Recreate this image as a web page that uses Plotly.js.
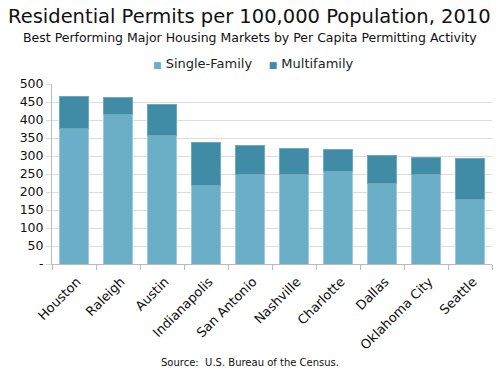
<!DOCTYPE html>
<html>
<head>
<meta charset="utf-8">
<script src="https://cdn.plot.ly/plotly-3.0.1.min.js"></script>
<style>html,body{margin:0;padding:0;background:#fff;}#chart{width:500px;height:375px;}</style>
</head>
<body>
<div id="chart"></div>
<script>
var cities = ["Houston","Raleigh","Austin","Indianapolis","San Antonio","Nashville","Charlotte","Dallas","Oklahoma City","Seattle"];
var singleFamily = [377, 414, 356, 217, 249, 250, 258, 224, 249, 180];
var multifamily = [87, 49, 86, 121, 81, 71, 61, 78, 46, 113];
var yTickVals = [0, 50, 100, 150, 200, 250, 300, 350, 400, 450, 500];
var yTickText = ["-", "50", "100", "150", "200", "250", "300", "350", "400", "450", "500"];
var seriesNames = ["Single-Family", "Multifamily"];
var seriesColors = ["#6aaec8", "#408ba6"];

var font = "DejaVu Sans, Verdana, sans-serif";
var data = [
  {type: "bar", name: seriesNames[0], x: cities, y: singleFamily,
   marker: {color: seriesColors[0], line: {color: "#9dcbdc", width: 1}}},
  {type: "bar", name: seriesNames[1], x: cities, y: multifamily,
   marker: {color: seriesColors[1], line: {color: "#6ea9be", width: 1}}}
];
var plotH = 375 - 84 - 111;
var plotW = 500 - 52 - 8;
function py(pix) { return (375 - 111 - pix) / plotH; }
function px(pix) { return (pix - 52) / plotW; }
var legendText = seriesNames.map(function(n, i) {
  return "<span style='color:" + seriesColors[i] + ";font-size:9px'>■</span> " + n;
}).join("    ");
var layout = {
  width: 500, height: 375,
  margin: {l: 52, r: 8, t: 84, b: 111},
  barmode: "stack", bargap: 0.36,
  paper_bgcolor: "#fff", plot_bgcolor: "#fff",
  font: {family: font, color: "#111", size: 11},
  showlegend: false,
  xaxis: {type: "category", tickangle: -45, tickson: "boundaries", ticks: "outside",
          ticklen: 5, tickcolor: "#bbb", showline: true, linecolor: "#bbb",
          ticklabelstandoff: 4, ticklabelshift: 3,
          tickfont: {size: 13, color: "#111"}, showgrid: false},
  yaxis: {range: [0, 500], tickvals: yTickVals, ticktext: yTickText,
          showgrid: true, gridcolor: "#dcdcdc", showline: true, linecolor: "#bbb",
          ticks: "outside", ticklen: 5, tickcolor: "#dcdcdc",
          tickfont: {size: 12.5, color: "#111"}, zeroline: false, fixedrange: true},
  annotations: [
    {text: "Residential Permits per 100,000 Population, 2010", xref: "paper", yref: "paper",
     x: px(249), y: py(16), xanchor: "center", yanchor: "middle", showarrow: false,
     font: {size: 19.5, color: "#111"}},
    {text: "Best Performing Major Housing Markets by Per Capita Permitting Activity", xref: "paper", yref: "paper",
     x: px(250), y: py(37), xanchor: "center", yanchor: "middle", showarrow: false,
     font: {size: 12.5, color: "#111"}},
    {text: legendText, xref: "paper", yref: "paper",
     x: px(253), y: py(64), xanchor: "center", yanchor: "middle", showarrow: false,
     font: {size: 13, color: "#222"}},
    {text: "Source:  U.S. Bureau of the Census.", xref: "paper", yref: "paper",
     x: px(250), y: py(362), xanchor: "center", yanchor: "middle", showarrow: false,
     font: {size: 10, color: "#111"}}
  ]
};
Plotly.newPlot("chart", data, layout, {displayModeBar: false, staticPlot: true});
</script>
</body>
</html>
